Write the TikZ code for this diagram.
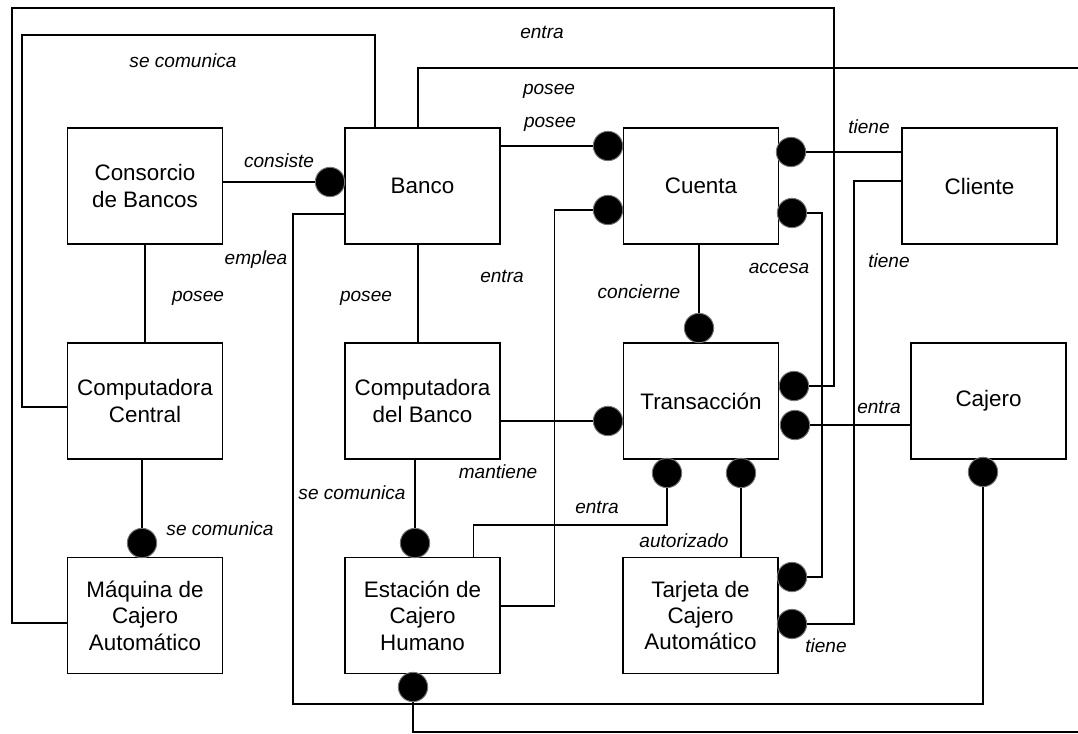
\documentclass[tikz,border=0pt]{standalone}
\usepackage{fontspec}
\setmainfont{Liberation Sans}
\usepackage{tikz}

\begin{document}
\begin{tikzpicture}[x=0.75pt,y=-0.75pt,line width=1.1pt,
	clase/.style={draw,rectangle,minimum width=116pt,minimum height=87pt,align=center,inner sep=2pt,font=\fontsize{16.8}{19.8}\selectfont},
	bola/.style={circle,fill=black,draw=black!55,line width=0.7pt,minimum size=22pt,inner sep=0pt},
	rol/.style={inner sep=0pt,font=\fontsize{14.3}{17}\selectfont\itshape}]
		\useasboundingbox (0,0) rectangle (1078,734);

		% clases
		\node (Cons) at (145,186) [clase] {Consorcio\\de Bancos};
		\node (Banco) at (422.5,186) [clase] {Banco};
		\node (Cuenta) at (701,186) [clase] {Cuenta};
		\node (Cliente) at (979.5,186) [clase] {Cliente};
		\node (CC) at (145,401) [clase] {Computadora\\Central};
		\node (CB) at (422.5,401) [clase] {Computadora\\del Banco};
		\node (Trans) at (701,401) [clase] {Transacción};
		\node (Cajero) at (988.5,401) [clase] {Cajero};
		\node (Maq) at (145,615.5) [clase] {Máquina de\\Cajero\\Automático};
		\node (Est) at (422.5,615.5) [clase] {Estación de\\Cajero\\Humano};
		\node (Tarj) at (700.5,615.5) [clase] {Tarjeta de\\Cajero\\Automático};

		% bolas
		\node (bBanco) at (330,182) [bola] {};
		\node (bCu1) at (608,146) [bola] {};
		\node (bCu2) at (608,210) [bola] {};
		\node (bCu3) at (791,152) [bola] {};
		\node (bCu4) at (792,213) [bola] {};
		\node (bTr1) at (699,328) [bola] {};
		\node (bTr2) at (794,386) [bola] {};
		\node (bTr3) at (795,425) [bola] {};
		\node (bTr4) at (608,421) [bola] {};
		\node (bTr5) at (667,473) [bola] {};
		\node (bTr6) at (741,473) [bola] {};
		\node (bCaj) at (983,472) [bola] {};
		\node (bMaq) at (142,543) [bola] {};
		\node (bEst1) at (415,543) [bola] {};
		\node (bEst2) at (413,687) [bola] {};
		\node (bTa1) at (792,577) [bola] {};
		\node (bTa2) at (792,624) [bola] {};

		% esquinas
		\coordinate (k1) at (554.5,606);
		\coordinate (k2) at (822,577);
		\coordinate (k3) at (854,181);
		\coordinate (k4) at (854,624);
		\coordinate (k5) at (834,8);
		\coordinate (k6) at (12,623);
		\coordinate (k7) at (473.5,525);
		\coordinate (k8) at (293,214);
		\coordinate (k9) at (293,704);
		\coordinate (k10) at (22,407);
		\coordinate (k11) at (375,35);
		\coordinate (k12) at (418,68);
		\coordinate (e1) at (1078,68);
		\coordinate (e2) at (1078,732);

		% relaciones
		\draw (Cons.east |- bBanco) -- (bBanco);
		\draw (Banco.east |- bCu1) -- (bCu1);
		\draw (bCu2) -| (k1) -- (Est.east |- k1);
		\draw (bCu3) -- (Cliente.west |- bCu3);
		\draw (bCu4) -| (k2) -- (bTa1);
		\draw (Cliente.west |- k3) -- (k3) -- (k4) -- (bTa2);
		\draw (bTr1 |- Cuenta.south) -- (bTr1);
		\draw (bTr2) -| (k5) -| (k6) -- (Maq.west |- k6);
		\draw (Cajero.west |- bTr3) -- (bTr3);
		\draw (CB.east |- bTr4) -- (bTr4);
		\draw (bTr5) |- (k7) -- (Est.north -| k7);
		\draw (bTr6) -- (bTr6 |- Tarj.north);
		\draw (Banco.west |- k8) -- (k8) -- (k9) -| (bCaj);
		\draw (CC.west |- k10) -- (k10) |- (k11) -- (k11 |- Banco.north);
		\draw (k12 |- Banco.north) -- (k12) -- (e1);
		\draw (k12 |- Banco.south) -- (k12 |- CB.north);
		\draw (Cons.south) -- (CC.north);
		\draw (bMaq |- CC.south) -- (bMaq);
		\draw (bEst1 |- CB.south) -- (bEst1);
		\draw (bEst2) |- (e2);

		% nombres de las relaciones
		\node (r1) at (183,61) [rol] {se comunica};
		\node (r2) at (542,32) [rol] {entra};
		\node (r3) at (549,91) [rol] {posee};
		\node (r4) at (550,124) [rol] {posee};
		\node (r5) at (279,161) [rol] {consiste};
		\node (r6) at (869,127) [rol] {tiene};
		\node (r7) at (256,260) [rol] {emplea};
		\node (r8) at (198,298) [rol] {posee};
		\node (r9) at (366,298) [rol] {posee};
		\node (r10) at (502,276) [rol] {entra};
		\node (r11) at (639,292) [rol] {concierne};
		\node (r12) at (779,268) [rol] {accesa};
		\node (r13) at (889,261) [rol] {tiene};
		\node (r14) at (879,407) [rol] {entra};
		\node (r15) at (498,472) [rol] {mantiene};
		\node (r16) at (352,493) [rol] {se comunica};
		\node (r17) at (220,529) [rol] {se comunica};
		\node (r18) at (597,507) [rol] {entra};
		\node (r19) at (684,541) [rol] {autorizado};
		\node (r20) at (826,646) [rol] {tiene};
	\end{tikzpicture}
\end{document}
